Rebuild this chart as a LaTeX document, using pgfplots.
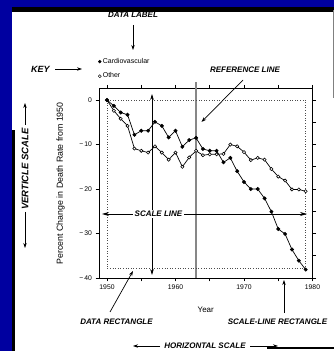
\documentclass[border=0pt]{standalone}
\usepackage{fontspec}
\setmainfont{Liberation Sans}
\usepackage{pgfplots}
\usepackage{pgfplotstable}
\pgfplotsset{compat=1.18}
\usetikzlibrary{arrows.meta}
\definecolor{bgblue}{RGB}{0,0,160}
\definecolor{refgray}{RGB}{135,135,135}

\pgfplotstableread{
year cardio other
1950 0 0
1951 -1.3 -2.4
1952 -2.8 -4.2
1953 -3.3 -5.8
1954 -7.8 -10.9
1955 -6.9 -11.4
1956 -6.9 -11.8
1957 -4.9 -10.4
1958 -5.8 -11.8
1959 -8.4 -13.4
1960 -6.9 -11.8
1961 -10.5 -15.0
1962 -9.0 -12.9
1963 -8.5 -11.4
1964 -11.0 -12.4
1965 -11.4 -12.2
1966 -11.4 -12.2
1967 -14.0 -12.1
1968 -13.0 -10.0
1969 -16.0 -10.4
1970 -18.4 -11.7
1971 -20.0 -13.5
1972 -20.0 -13.0
1973 -22.1 -13.4
1974 -25.1 -15.5
1975 -29.0 -17.2
1976 -30.1 -18.1
1977 -33.6 -20.1
1978 -36.1 -20.1
1979 -38.1 -20.5
}\datatable

\tikzset{
  ann/.style={-{Stealth[length=5pt,width=3.4pt]}, line width=0.7pt, black},
  annfont/.style={font=\bfseries\itshape\fontsize{8}{9}\selectfont},
}

\begin{document}
\begin{tikzpicture}[x=1pt,y=1pt]
\fill[bgblue] (0,0) rectangle (334,351);
\useasboundingbox (0,0) rectangle (334,351);
\fill[white] (12,0) rectangle (334,339);
\fill[black] (12,339) rectangle (334,344);
\fill[black] (12,0) rectangle (14.5,221);
\fill[black] (267,2) rectangle (334,3.5);
\draw[gray, line width=1.2pt] (333.2,253) -- (333.2,341);

% right-hand ticks every 5
\begin{axis}[
  at={(99pt,73pt)}, anchor=south west, scale only axis,
  width=213.5pt, height=189.5pt,
  xmin=1948.83, xmax=1980, ymin=-40, ymax=2.6,
  axis x line=none, axis y line*=right,
  axis line style={line width=0.8pt, -},
  ytick={-40,-35,...,0}, yticklabels={},
  tick align=outside, major tick length=3.5pt,
  tick style={black, line width=0.6pt},
]
\end{axis}

\begin{axis}[
  at={(99pt,73pt)}, anchor=south west, scale only axis,
  width=213.5pt, height=189.5pt,
  xmin=1948.83, xmax=1980, ymin=-40, ymax=2.6,
  clip=false,
  axis line style={line width=0.8pt},
  xtick={1950,1960,1970,1980}, minor xtick={1955,1965,1975},
  xticklabels={1950,1960,1970,1980},
  ytick={-40,-30,-20,-10,0},
  yticklabels={−\,40,−\,30,−\,20,−\,10,0},
  xtick pos=both, ytick pos=left,
  tick align=outside, major tick length=3.5pt, minor tick length=3.5pt,
  tick style={black, line width=0.6pt},
  ticklabel style={font=\fontsize{6.8}{8}\selectfont},
  xlabel={Year}, ylabel={Percent Change in Death Rate from 1950},
  every axis x label/.style={at={(rel axis cs:0.5,0)}, anchor=center, yshift=-32pt, font=\fontsize{8}{9}\selectfont},
  every axis y label/.style={at={(rel axis cs:0,0.5)}, xshift=-38.5pt, rotate=90, anchor=center, font=\fontsize{8.8}{10}\selectfont},
  legend image code/.code={\draw[#1] plot coordinates {(0pt,0pt)};},
  legend style={at={(axis cs:1948.7,7.0)}, anchor=west, draw=none, fill=none,
    inner xsep=0pt, inner ysep=0pt, nodes={inner sep=1.5pt},
    row sep=5pt, font=\fontsize{7}{8}\selectfont},
  legend cell align=left,
]
\addlegendimage{only marks, mark=*, mark size=1.5pt, draw=black, fill=black}
\addlegendentry{Cardiovascular}
\addlegendimage{only marks, mark=*, mark size=1.5pt, draw=black, fill=white}
\addlegendentry{Other}

\draw[refgray, line width=2pt] (axis cs:1963,4.1) -- (axis cs:1963,-40);
\draw[black!70, dotted, line width=0.6pt] (axis cs:1950,0) rectangle (axis cs:1979,-37.9);

\addplot[black, line width=0.7pt, mark=*, mark size=1.6pt, mark options={fill=white, draw=black, line width=0.6pt}, forget plot]
  table[x=year, y=other] {\datatable};
\addplot[black, line width=0.7pt, mark=*, mark size=1.6pt, mark options={fill=black, draw=black}, forget plot]
  table[x=year, y=cardio] {\datatable};
\end{axis}

% annotations
\node[annfont] at (133,336) {DATA LABEL};
\draw[ann] (133,326) -- (133,301);

\node[font=\bfseries\itshape\fontsize{9}{10}\selectfont] at (40.5,282) {KEY};
\draw[ann] (55,282) -- (82,282);

\node[annfont] at (245,281) {REFERENCE LINE};
\draw[ann] (243,271) -- (201.5,229);

\node[font=\bfseries\itshape\fontsize{9.5}{10}\selectfont, rotate=90] at (25,182) {VERTICLE SCALE};
\draw[ann] (25,226) -- (25,248);
\draw[ann] (25,139) -- (25,103);

% vertical scale double arrow
\draw[{Stealth[length=6pt,width=3.6pt]}-{Stealth[length=6pt,width=3.6pt]}, line width=0.7pt] (152,257) -- (152,76);
% scale line
\draw[-{Stealth[length=7pt,width=4pt]}, line width=0.7pt] (140,137) -- (102,137);
\draw[-{Stealth[length=7pt,width=4pt]}, line width=0.7pt] (178,137) -- (307,137);
\node[annfont, fill=white, inner sep=1.5pt] at (158.5,137) {SCALE LINE};

\node[annfont] at (116.5,29) {DATA RECTANGLE};
\draw[ann] (110,39) -- (133,80);

\node[annfont] at (277.5,29) {SCALE-LINE RECTANGLE};
\draw[ann] (284,38) -- (284,71);

\node[annfont] at (205,5) {HORIZONTAL SCALE};
\draw[ann] (160,5) -- (133,5);
\draw[ann] (250,5) -- (278,5);
\end{tikzpicture}
\end{document}
